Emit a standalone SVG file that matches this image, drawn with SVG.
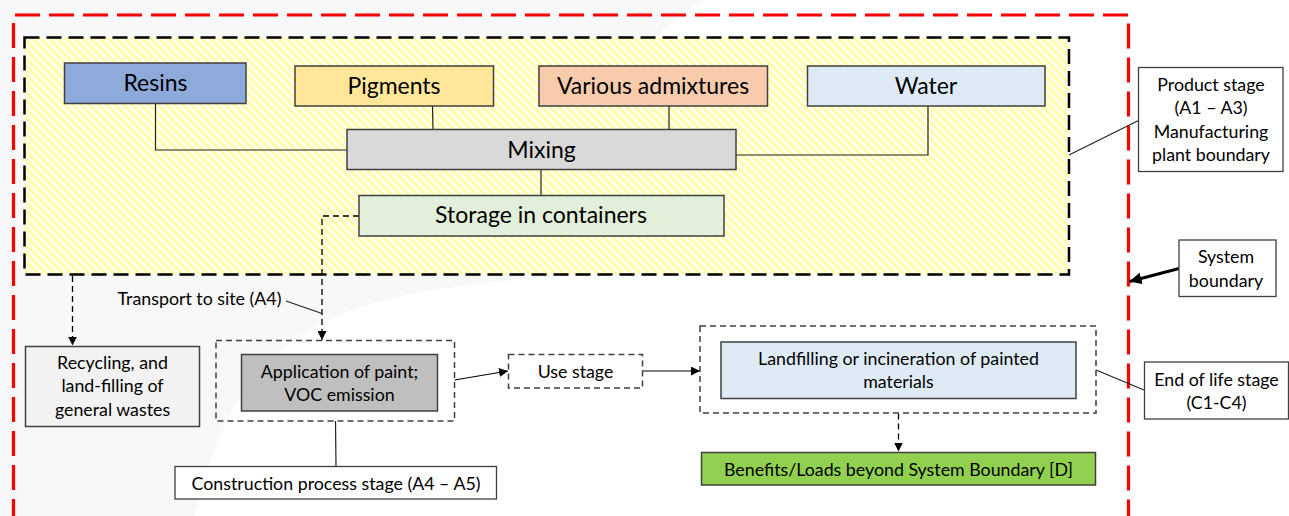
<svg xmlns="http://www.w3.org/2000/svg" width="1289" height="516" viewBox="0 0 1289 516">
<defs>
<pattern id="hatch" width="6" height="6" patternUnits="userSpaceOnUse" patternTransform="rotate(-45)">
<rect width="6" height="6" fill="#fffbf2"/>
<rect width="2.8" height="6" fill="#ffffa0"/>
</pattern>
<marker id="arr" viewBox="0 0 10 10" refX="10" refY="5" markerWidth="9" markerHeight="9" markerUnits="userSpaceOnUse" orient="auto">
<path d="M0,0 L10,5 L0,10 Z" fill="#000"/>
</marker>
<marker id="arrB" viewBox="0 0 10 10" refX="10" refY="5" markerWidth="12" markerHeight="12" markerUnits="userSpaceOnUse" orient="auto">
<path d="M0,0 L10,5 L0,10 Z" fill="#000"/>
</marker>
</defs>
<style>
text{font-family:Lato,"Liberation Sans",sans-serif;fill:#000;text-anchor:middle}
.big{font-size:23px}
.sm{font-size:17.8px}
.box{stroke:#404040;stroke-width:1.5}
.dbox{fill:none;stroke:#404040;stroke-width:1.5;stroke-dasharray:6 4}
.ln{fill:none;stroke:#222;stroke-width:1.2}
.dln{fill:none;stroke:#000;stroke-width:1.3;stroke-dasharray:6 4}
</style>
<rect width="1289" height="516" fill="#ffffff"/>
<path d="M0,0 L705,0 C600,40 620,240 560,276 C380,292 240,300 195,516 L0,516 Z" fill="#f8f8f8"/>

<g id="system-boundary-line">
<path d="M13.5,23 V516 M15,15 H1128.5 V516" fill="none" stroke="#ff0000" stroke-width="3.2" stroke-dasharray="25 9"/>
</g>

<g id="product-stage-area">
<rect x="24.5" y="37.5" width="1044.5" height="237" fill="url(#hatch)" stroke="#000" stroke-width="2.5" stroke-dasharray="15 7"/>
</g>

<g id="connectors">
<path class="ln" d="M155.5,90 V150 H347"/>
<path class="ln" d="M432.5,106 L433,129.5"/>
<path class="ln" d="M669,106 V133"/>
<path class="ln" d="M928,95.5 V155 H736"/>
<path class="ln" d="M541,169.5 V195.5"/>
<path class="dln" d="M359,216 H322 V340" marker-end="url(#arr)"/>
<path class="dln" d="M72.5,276 V345.5" marker-end="url(#arr)"/>
<path class="ln" d="M286,301 L322,313.5"/>
<path class="ln" d="M335.5,421 L336,466.5"/>
<path class="ln" stroke-width="1.5" d="M454.5,380 L508,371" marker-end="url(#arr)" style="stroke:#000"/>
<path class="ln" stroke-width="1.5" d="M642.5,371 H700" marker-end="url(#arr)" style="stroke:#000"/>
<path class="dln" d="M898.5,413.5 V451.5" marker-end="url(#arr)"/>
<path class="ln" d="M1069,155 L1138.5,120.5"/>
<path class="ln" d="M1096,370 L1144,390"/>
<path d="M1179,268.5 L1129.5,281.5" fill="none" stroke="#000" stroke-width="3" marker-end="url(#arrB)"/>
</g>

<g id="resins">
<rect class="box" x="64.5" y="63" width="181.5" height="40.5" fill="#8eaadb"/>
<text class="big" x="155.5" y="91">Resins</text>
</g>
<g id="pigments">
<rect class="box" x="295" y="66" width="198.5" height="40" fill="#ffe699"/>
<text class="big" x="394" y="94">Pigments</text>
</g>
<g id="admixtures">
<rect class="box" x="539" y="66" width="228.5" height="40" fill="#f8cbad"/>
<text class="big" x="653" y="94">Various admixtures</text>
</g>
<g id="water">
<rect class="box" x="807.5" y="66" width="237.5" height="40" fill="#deebf7"/>
<text class="big" x="926" y="94">Water</text>
</g>
<g id="mixing">
<rect class="box" x="347" y="129.5" width="389" height="40" fill="#d9d9d9"/>
<text class="big" x="541.5" y="157.5">Mixing</text>
</g>
<g id="storage">
<rect class="box" x="359" y="195.5" width="365" height="40.5" fill="#e2efda"/>
<text class="big" x="541" y="222.5">Storage in containers</text>
</g>

<g id="product-stage-label">
<rect x="1138.5" y="67.5" width="144.5" height="104" fill="#fff" stroke="#404040" stroke-width="1.3"/>
<text class="sm" x="1211" y="91">Product stage</text>
<text class="sm" x="1211" y="114">(A1 – A3)</text>
<text class="sm" x="1211" y="137.5">Manufacturing</text>
<text class="sm" x="1211" y="160.5">plant boundary</text>
</g>
<g id="system-boundary-label">
<rect x="1179" y="240" width="97" height="56.5" fill="#fff" stroke="#404040" stroke-width="1.3"/>
<text class="sm" x="1226" y="263">System</text>
<text class="sm" x="1226" y="286.5">boundary</text>
</g>

<g id="transport-label">
<text class="sm" x="199.5" y="305">Transport to site (A4)</text>
</g>

<g id="recycling">
<rect class="box" x="25.5" y="346.5" width="174" height="80" fill="#f2f2f2"/>
<text class="sm" x="112.5" y="369">Recycling, and</text>
<text class="sm" x="112.5" y="392">land-filling of</text>
<text class="sm" x="112.5" y="415.5">general wastes</text>
</g>

<g id="construction-stage">
<rect class="dbox" x="216" y="340.5" width="238.5" height="80.5"/>
<rect class="box" x="241.5" y="354.5" width="196" height="56.5" fill="#bfbfbf"/>
<text class="sm" x="339.5" y="378">Application of paint;</text>
<text class="sm" x="339.5" y="400.5">VOC emission</text>
</g>
<g id="construction-label">
<rect x="175" y="466.5" width="321.5" height="32.5" fill="#fff" stroke="#404040" stroke-width="1.3"/>
<text class="sm" x="336" y="489.5">Construction process stage (A4 – A5)</text>
</g>

<g id="use-stage">
<rect class="dbox" x="508.5" y="354.5" width="134" height="33.5" fill="#fff"/>
<text class="sm" x="575.5" y="377.5">Use stage</text>
</g>

<g id="end-of-life-stage">
<rect class="dbox" x="700" y="326" width="396" height="87"/>
<rect class="box" x="721" y="342" width="355" height="56.5" fill="#deebf7"/>
<text class="sm" x="898.5" y="365">Landfilling or incineration of painted</text>
<text class="sm" x="898.5" y="387.5">materials</text>
</g>
<g id="benefits">
<rect class="box" x="701.5" y="452.5" width="394" height="32.5" fill="#92d050"/>
<text class="sm" x="898.5" y="476">Benefits/Loads beyond System Boundary [D]</text>
</g>
<g id="end-of-life-label">
<rect x="1144.5" y="362" width="144" height="57" fill="#fff" stroke="#404040" stroke-width="1.3"/>
<text class="sm" x="1216.5" y="386">End of life stage</text>
<text class="sm" x="1216.5" y="408.5">(C1-C4)</text>
</g>
</svg>
